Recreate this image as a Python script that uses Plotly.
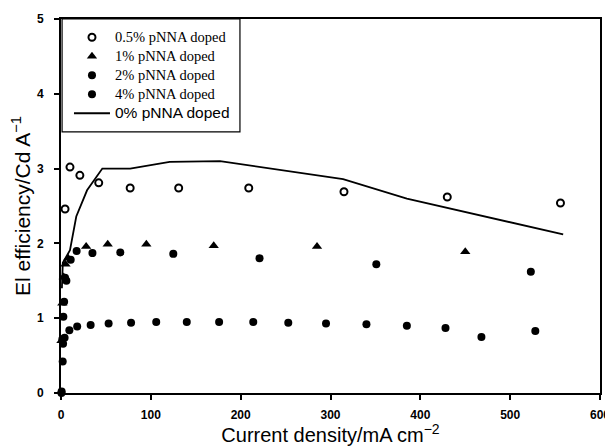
import plotly.graph_objects as go

# 0.5% pNNA doped (open circles)
x05 = [4.5, 10, 21, 42, 77, 131, 209, 315, 430, 556]
y05 = [2.46, 3.02, 2.91, 2.81, 2.74, 2.74, 2.74, 2.69, 2.62, 2.54]

# 1% pNNA doped (triangles)
x1 = [0.5, 1.5, 3, 5, 8, 28, 52, 95, 170, 285, 450]
y1 = [0.7, 1.2, 1.55, 1.72, 1.8, 1.96, 1.99, 1.99, 1.97, 1.96, 1.89]

# 2% pNNA doped (filled circles, upper)
x2 = [0.5, 1.5, 2.6, 3.5, 4.5, 6, 10.8, 17.4, 35, 66, 125, 221, 351, 523]
y2 = [0.0, 0.72, 1.02, 1.22, 1.54, 1.5, 1.78, 1.9, 1.87, 1.88, 1.86, 1.8, 1.72, 1.62]

# 4% pNNA doped (filled circles, lower)
x4 = [0.7, 1.9, 2.3, 4, 9.3, 18, 33, 53, 78, 106, 140, 176, 214, 253, 295, 340, 385, 428, 468, 528]
y4 = [0.02, 0.42, 0.66, 0.74, 0.84, 0.89, 0.91, 0.93, 0.94, 0.95, 0.95, 0.95, 0.95, 0.94, 0.93, 0.92, 0.9, 0.87, 0.75, 0.83]

# 0% pNNA doped (line)
x0 = [1, 2, 10, 17, 29, 46, 77, 121, 177, 314, 385, 559]
y0 = [1.4, 1.74, 1.91, 2.36, 2.71, 3.0, 3.0, 3.09, 3.1, 2.86, 2.6, 2.12]

names = ["0.5% pNNA doped", "1% pNNA doped", "2% pNNA doped", "4% pNNA doped", "0% pNNA doped"]

serif = "Liberation Serif, Times New Roman, serif"
sans = "Liberation Sans, Arial, sans-serif"


def serif_name(t):
    return '<span style="font-size:14.5px">' + t + '</span>'


fig = go.Figure()
fig.add_trace(go.Scatter(x=x05, y=y05, mode="markers", name=serif_name(names[0]),
                         marker=dict(symbol="circle-open", size=7, color="black", line=dict(width=2)),
                         cliponaxis=False))
fig.add_trace(go.Scatter(x=x1, y=y1, mode="markers", name=serif_name(names[1]),
                         marker=dict(symbol="triangle-up", size=9, color="black"), cliponaxis=False))
fig.add_trace(go.Scatter(x=x2, y=y2, mode="markers", name=serif_name(names[2]),
                         marker=dict(symbol="circle", size=8, color="black"), cliponaxis=False))
fig.add_trace(go.Scatter(x=x4, y=y4, mode="markers", name=serif_name(names[3]),
                         marker=dict(symbol="circle", size=8, color="black"), cliponaxis=False))
fig.add_trace(go.Scatter(x=x0, y=y0, mode="lines",
                         name='<span style="font-family:Liberation Sans, Arial, sans-serif;font-size:15.5px">' + names[4] + '</span>',
                         line=dict(color="black", width=1.8), cliponaxis=False))

fig.update_layout(
    width=605, height=438,
    margin=dict(l=53, r=13, t=11, b=53),
    plot_bgcolor="white", paper_bgcolor="white",
    showlegend=True,
    legend=dict(x=0.0148, y=0.99, xanchor="left", yanchor="top", itemwidth=36,
                font=dict(family=serif, size=12, color="black"),
                bgcolor="rgba(0,0,0,0)", borderwidth=0, tracegroupgap=0),
    xaxis=dict(range=[0, 600], tickvals=[0, 100, 200, 300, 400, 500, 600], automargin=False,
               showgrid=False, zeroline=False, showline=True, linecolor="black", linewidth=2,
               mirror=True, ticks="outside", ticklen=5, tickcolor="black", tickwidth=1.5,
               ticklabelstandoff=5,
               tickfont=dict(family=sans, size=12, color="black", weight="bold"),
               title=dict(text="Current density/mA cm<sup>−2</sup>", font=dict(family=sans, size=20, color="black"), standoff=4)),
    yaxis=dict(range=[0, 5], tickvals=[0, 1, 2, 3, 4, 5], automargin=False,
               showgrid=False, zeroline=False, showline=True, linecolor="black", linewidth=2,
               mirror=True, ticks="outside", ticklen=5, tickcolor="black", tickwidth=1.5,
               ticklabelstandoff=8,
               tickfont=dict(family=sans, size=12, color="black", weight="bold"),
               title=dict(text="El efficiency/Cd A<sup>−1</sup>", font=dict(family=sans, size=21, color="black"), standoff=8)),
    shapes=[dict(type="rect", xref="paper", yref="paper", x0=0.002, x1=0.332, y0=0.698, y1=1.0,
                 line=dict(color="black", width=1.2), fillcolor="rgba(0,0,0,0)")],
)

fig.write_html("out.html")
